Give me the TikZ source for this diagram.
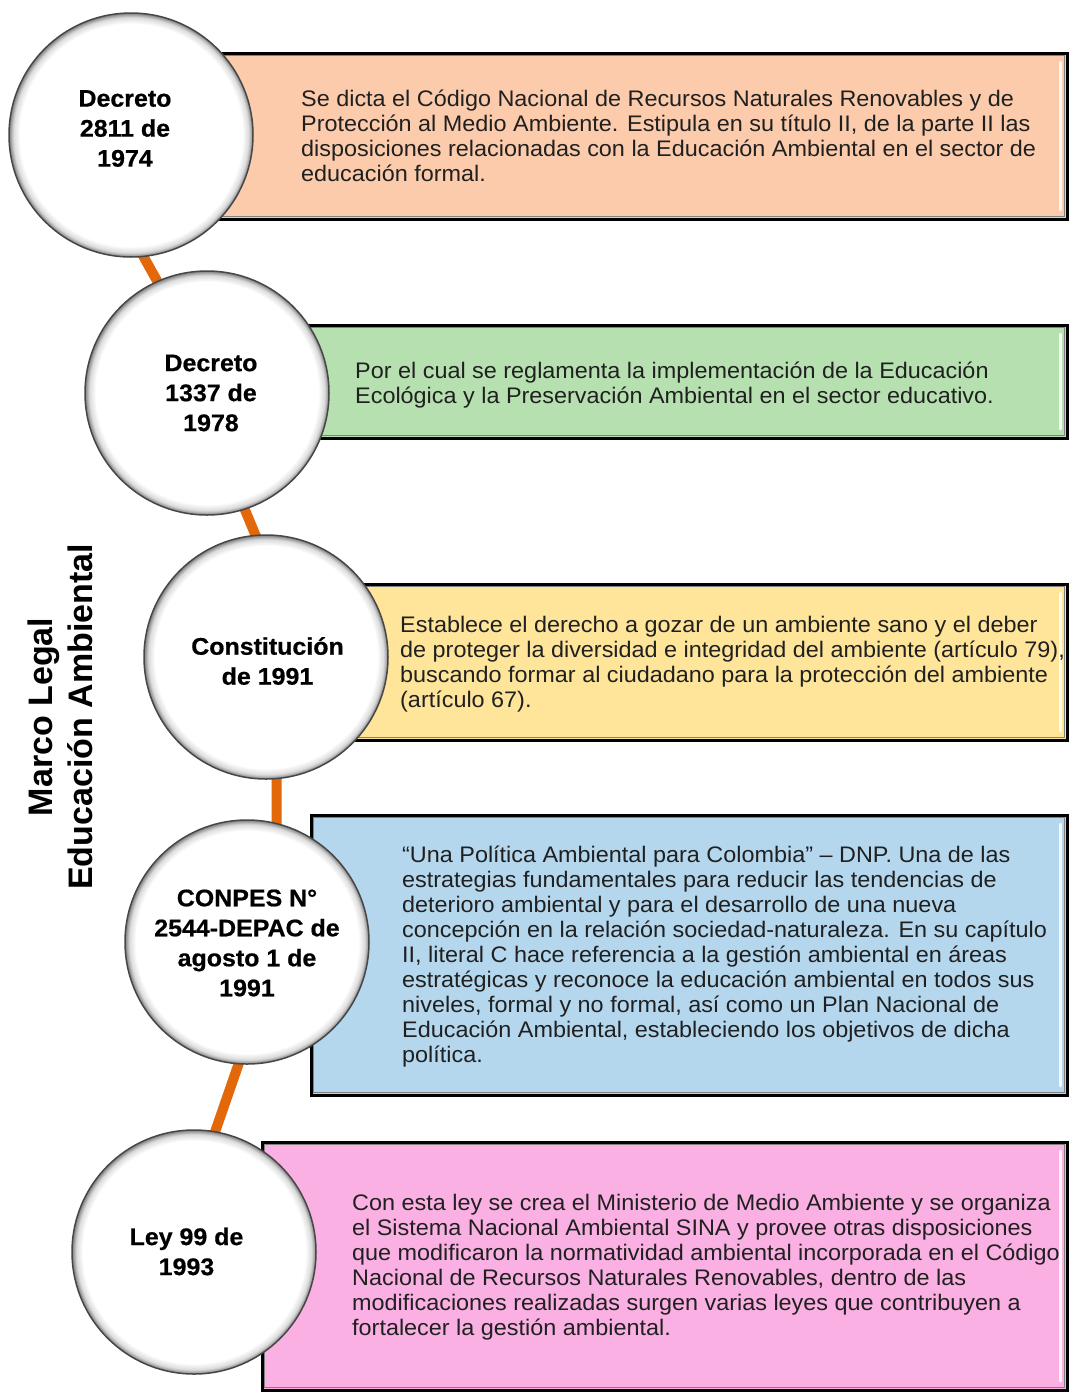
\documentclass[tikz,border=0pt]{standalone}
\usepackage{fontspec}
\setmainfont{Liberation Sans}
\newfontfamily\bodyfont[FakeStretch=1.04]{Liberation Sans}
\newfontfamily\circfont[FakeStretch=1.04,FakeBold=0.6]{Liberation Sans}
\usetikzlibrary{backgrounds}
\definecolor{peach}{RGB}{251,203,171}
\definecolor{mint}{RGB}{183,224,177}
\definecolor{sand}{RGB}{254,229,154}
\definecolor{sky}{RGB}{180,215,238}
\definecolor{rose}{RGB}{250,176,226}
\definecolor{tline}{RGB}{227,104,10}
\definecolor{bodytext}{RGB}{32,32,32}
\pgfdeclareradialshading{cring}{\pgfpoint{0bp}{0bp}}{color(0bp)=(white); color(22.8bp)=(white); color(24.1bp)=(black!14); color(25bp)=(black!50); color(50bp)=(black!50)}
\tikzset{
  box/.style={draw=black, line width=3pt, rectangle, inner sep=0pt,
    path picture={
      \draw[black!50, line width=1.2pt]
        ([xshift=2.8pt,yshift=-2.8pt]path picture bounding box.north west) rectangle
        ([xshift=-2.8pt,yshift=2.8pt]path picture bounding box.south east);
      \draw[white, opacity=.85, line width=2.5pt, line cap=round]
        ([xshift=-7pt,yshift=-9pt]path picture bounding box.north east) --
        ([xshift=-7pt,yshift=9pt]path picture bounding box.south east);
    }},
  circ/.style={circle, minimum size=244pt, inner sep=0pt, shade, shading=cring,
    draw=black!72, line width=1.5pt},
  ctext/.style={align=center, inner sep=0pt,
    font=\circfont\bfseries\fontsize{24}{30}\selectfont},
  body/.style={anchor=west, align=left, inner sep=0pt, text=bodytext,
    font=\bodyfont\fontsize{22.5}{25}\selectfont},
  link/.style={draw=tline, line width=10pt, shorten <=-6pt, shorten >=-6pt}
}
\begin{document}
\begin{tikzpicture}[x=1pt,y=-1pt]
\useasboundingbox (0,0) rectangle (1070,1395);
% boxes
\node[box, fill=peach, minimum width=867.5pt, minimum height=166pt] (b1) at (633.75,136) {};
\node[box, fill=mint,  minimum width=777.5pt, minimum height=113pt] (b2) at (678.75,381.5) {};
\node[box, fill=sand,  minimum width=727.5pt, minimum height=156pt] (b3) at (703.75,662) {};
\node[box, fill=sky,   minimum width=756.5pt, minimum height=280pt] (b4) at (689.25,955) {};
\node[box, fill=rose,  minimum width=805.5pt, minimum height=248pt] (b5) at (664.75,1266) {};
% texts
\node[body] (t1) at (301,136) {Se dicta el Código Nacional de Recursos Naturales Renovables y de\\Protección al Medio Ambiente. Estipula en su título II, de la parte II las\\disposiciones relacionadas con la Educación Ambiental en el sector de\\educación formal.};
\node[body] (t2) at (355,385.5) {Por el cual se reglamenta la implementación de la Educación\\Ecológica y la Preservación Ambiental en el sector educativo.};
\node[body] (t3) at (400,664) {Establece el derecho a gozar de un ambiente sano y el deber\\de proteger la diversidad e integridad del ambiente (artículo 79),\\buscando formar al ciudadano para la protección del ambiente\\(artículo 67).};
\node[body] (t4) at (402,956.5) {“Una Política Ambiental para Colombia” – DNP. Una de las\\estrategias fundamentales para reducir las tendencias de\\deterioro ambiental y para el desarrollo de una nueva\\concepción en la relación sociedad-naturaleza. En su capítulo\\II, literal C hace referencia a la gestión ambiental en áreas\\estratégicas y reconoce la educación ambiental en todos sus\\niveles, formal y no formal, así como un Plan Nacional de\\Educación Ambiental, estableciendo los objetivos de dicha\\política.};
\node[body] (t5) at (352,1267.5) {Con esta ley se crea el Ministerio de Medio Ambiente y se organiza\\el Sistema Nacional Ambiental SINA y provee otras disposiciones\\que modificaron la normatividad ambiental incorporada en el Código\\Nacional de Recursos Naturales Renovables, dentro de las\\modificaciones realizadas surgen varias leyes que contribuyen a\\fortalecer la gestión ambiental.};
% title
\node[rotate=90, align=center, inner sep=0pt, font=\bfseries\fontsize{34}{40}\selectfont] (title) at (60.5,717) {Marco Legal\\Educación Ambiental};
% circles
\node[circ] (c1) at (131,135) {};
\node[circ] (c2) at (207,393) {};
\node[circ] (c3) at (266,657) {};
\node[circ] (c4) at (247,942) {};
\node[circ] (c5) at (194,1252) {};
% circle labels
\node[ctext] (l1) at (125,128.5) {Decreto\\2811 de\\1974};
\node[ctext] (l2) at (211,393) {Decreto\\1337 de\\1978};
\node[ctext] (l3) at (267.5,661) {Constitución\\de 1991};
\node[ctext] (l4) at (247,943) {CONPES N°\\2544-DEPAC de\\agosto 1 de\\1991};
\node[ctext] (l5) at (186.5,1251.5) {Ley 99 de\\1993};
% connectors
\begin{scope}[on background layer]
\fill[white] (0,0) rectangle (1070,1395);
\draw[link] (c1.-84) -- (c2.114);
\draw[link] (c2.-72) -- (c3.95);
\draw[link] (c3.-85) -- (c4.76);
\draw[link] (c4.-94) -- (c5.80);
\end{scope}
\end{tikzpicture}
\end{document}
